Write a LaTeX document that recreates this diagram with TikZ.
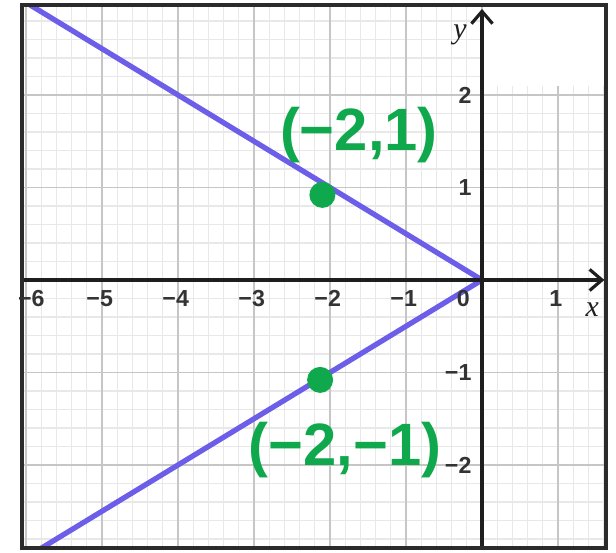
\documentclass[tikz,border=0pt]{standalone}
\usepackage{fontspec}
\setmainfont{Liberation Sans}
\newfontfamily\axisfont{Liberation Serif}
\usetikzlibrary{arrows.meta}
\definecolor{Ink}{HTML}{1E1E1E}
\definecolor{Frame}{HTML}{2B2B2B}
\definecolor{Tick}{HTML}{333333}
\definecolor{GridMajor}{HTML}{C6C6C6}
\definecolor{GridMinor}{HTML}{E8E8E8}
\definecolor{LineBlue}{HTML}{6C5EE8}
\definecolor{Marker}{HTML}{10A84C}
\tikzset{
  ticklabel/.style={font=\fontsize{6.6}{7}\selectfont\bfseries,text=Tick,inner sep=0pt},
  axislabel/.style={font=\fontsize{8.5}{9}\selectfont\axisfont\itshape,text=Ink,inner sep=0pt},
  markdot/.style={circle,fill=Marker,inner sep=0pt,minimum size=0.26cm},
  marklabel/.style={font=\fontsize{17}{19}\selectfont\bfseries,text=Marker,inner sep=0pt}
}

\begin{document}
\begin{tikzpicture}[x=0.76cm,y=0.925cm]
      \useasboundingbox (-6.342,-2.941) rectangle (1.763,3.027);
      % grid
      \draw[GridMinor,line width=0.35pt,step=0.2] (-6.05,-2.9) grid (1.63,2.97);
      \draw[GridMajor,line width=0.55pt,step=1] (-6.05,-2.9) grid (1.63,2.97);
      \fill[white] (0.03,2.1) rectangle (1.62,2.96);
      % the two rays
      \begin{scope}
        \clip (-6.05,-2.9) rectangle (1.63,2.97);
        \draw[LineBlue,line width=1.5pt,line join=round] (-6.1,3.05) -- (0,0) -- (-5.9,-2.95);
      \end{scope}
      % axes and frame
      \draw[Ink,line width=0.9pt,-{Straight Barb[length=3.5pt,width=6pt]}] (-6.05,0) -- (1.61,0);
      \draw[Ink,line width=0.9pt,-{Straight Barb[length=3.5pt,width=6pt]}] (0,-2.9) -- (0,2.93);
      \draw[Frame,line width=1pt] (-6.05,-2.9) rectangle (1.63,2.97);

      \foreach \x/\t in {-5/−5,-4/−4,-3/−3,-2/−2,-1/−1,1/1}{
        \node[ticklabel] (xt\x) at (\x-0.03,-0.2) {\t};
      }
      \node[ticklabel] (xt-6) at (-5.93,-0.2) {−6};
      \node[ticklabel,anchor=east] (xt0) at (-0.15,-0.2) {0};
      \foreach \y/\t in {2/2,1/1,-1/−1,-2/−2}{
        \node[ticklabel,anchor=east] (yt\y) at (-0.13,\y) {\t};
      }
      \node[axislabel] (xlab) at (1.45,-0.32) {x};
      \node[axislabel] (ylab) at (-0.29,2.65) {y};

      \node[markdot] (dotUpper) at (-2.1,0.92) {};
      \node[markdot] (dotLower) at (-2.13,-1.08) {};
      \node[marklabel] (labUpper) at (-1.62,1.57) {(−2,1)};
      \node[marklabel] (labLower) at (-1.8,-1.84) {(−2,−1)};
    \end{tikzpicture}
\end{document}
